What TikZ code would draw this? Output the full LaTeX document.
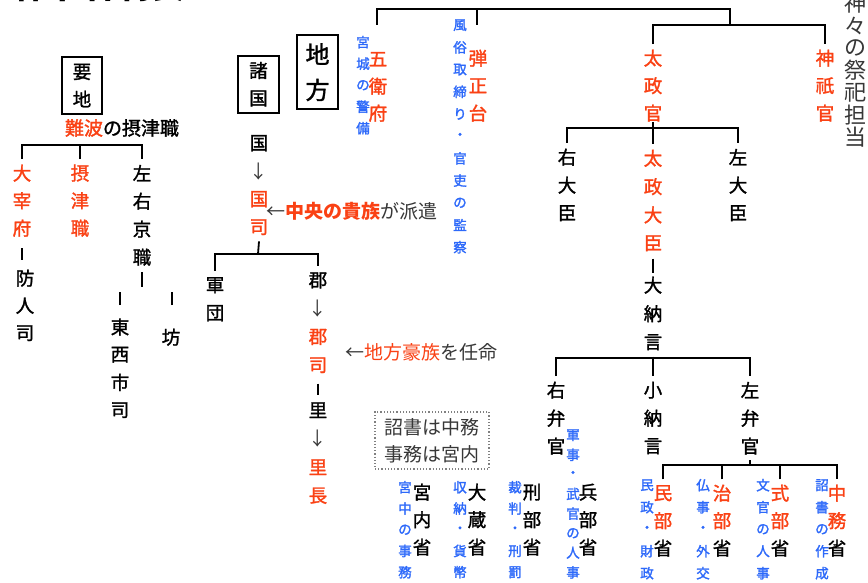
\documentclass[tikz,border=0pt]{standalone}
\usepackage{fontspec}
\setmainfont{Noto Sans CJK JP}
\newfontfamily\jpm[FakeBold=1.5]{Noto Sans CJK JP}
\newfontfamily\jpb[FakeBold=1.8]{Noto Sans CJK JP}
\newfontfamily\jpl{Noto Sans CJK JP}
\usetikzlibrary{calc}
\definecolor{rd}{RGB}{250,65,20}
\definecolor{bl}{RGB}{45,105,250}
\definecolor{gy}{RGB}{55,55,55}
\makeatletter
\newcommand\vstk[2]{\vbox{\offinterlineskip\@tfor\vch:=#2\do{\hbox to 1.1em{\hss\vbox to #1{\vss\hbox{\vch}\vss}\hss}}}}
\makeatother
\tikzset{
  ln/.style={line width=1.8pt, black},
  barln/.style={line width=2.6pt, black},
  stk/.style={inner sep=0pt, anchor=north},
  mf/.style={font=\fontsize{18.5}{18.5}\jpm, text=black},
  rf/.style={font=\fontsize{18.5}{18.5}\jpm, text=rd},
  bf/.style={font=\fontsize{13.5}{13.5}\jpb, text=bl},
  hf/.style={font=\fontsize{19}{19}\jpl, text=gy, inner sep=0pt, anchor=west},
  boxn/.style={draw, line width=1.4pt, inner sep=0pt, text=black},
}
\begin{document}
\begin{tikzpicture}[x=1pt,y=-1pt]
\useasboundingbox (0,0) rectangle (868,583);
\fill[white] (0,0) rectangle (868,583);
\begin{scope}
\clip (0,0) rectangle (868,583);
\node[font=\fontsize{34}{34}\bfseries, anchor=base, inner sep=0pt] (title) at (100,-1) {律令官制表};
\node[stk, font=\fontsize{22}{22}\jpl, text=gy] (kami) at (855,-8) {\vstk{22.3pt}{神々の祭祀担当}};
\end{scope}

% ---------- top tree ----------
\node[stk, rf] (gofu) at (378,45.5) {\vstk{27pt}{五衛府}};
\node[stk, bf] (kyujo) at (363,31.25) {\vstk{21.5pt}{宮城の警備}};
\node[stk, rf] (danjo) at (478,44.25) {\vstk{27.5pt}{弾正台}};
\node[stk, bf] (fuzoku) at (460,13.9) {\vstk{22.2pt}{風俗取締り・官吏の監察}};
\node[stk, rf] (taiseikan) at (653,44.25) {\vstk{27.5pt}{太政官}};
\node[stk, rf] (jingi) at (825,44.25) {\vstk{27.5pt}{神祇官}};

\coordinate (t1) at (377,9);
\coordinate (t2) at (730,9);
\coordinate (t3) at (477,9);
\coordinate (d1) at (377,25);
\coordinate (d2) at (477,25);
\coordinate (d3) at (730,25);
\draw[ln] (d1) -- (t1) -- (t2) -- (d3);
\draw[ln] (t3) -- (d2);
\draw[ln] (taiseikan.north) -- (taiseikan.north |- d3) -- (jingi.north |- d3) -- (jingi.north);

% ---------- daijin tier ----------
\node[stk, mf] (udaijin) at (567,143) {\vstk{28pt}{右大臣}};
\node[stk, rf] (daijo) at (653,144) {\vstk{28.3pt}{太政大臣}};
\node[stk, mf] (sadaijin) at (738,143) {\vstk{28pt}{左大臣}};
\coordinate (bus2) at (653,128);
\draw[ln] (udaijin.north) -- (udaijin.north |- bus2) -- (sadaijin.north |- bus2) -- (sadaijin.north);
\draw[ln, shorten <=-5pt] (taiseikan.south) -- (daijo.north);

\node[stk, mf] (dainagon) at (653,270.75) {\vstk{28.5pt}{大納言}};
\draw[barln, shorten <=1pt, shorten >=-2pt] (daijo.south) -- (dainagon.north);

% ---------- benkan tier ----------
\node[stk, mf] (ubenkan) at (556,376) {\vstk{28pt}{右弁官}};
\node[stk, mf] (shonagon) at (653,376) {\vstk{28pt}{小納言}};
\node[stk, mf] (sabenkan) at (750,376) {\vstk{28pt}{左弁官}};
\coordinate (bus3) at (653,358);
\draw[ln] (ubenkan.north) -- (ubenkan.north |- bus3) -- (sabenkan.north |- bus3) -- (sabenkan.north);
\draw[ln] (dainagon.south) -- (shonagon.north);

% ---------- ministries (left) ----------
\node[stk, mf] (kunai) at (422,478.25) {\vstk{27.5pt}{宮内省}};
\node[stk, mf] (okura) at (477,478.25) {\vstk{27.5pt}{大蔵省}};
\node[stk, mf] (gyobu) at (532,478.25) {\vstk{27.5pt}{刑部省}};
\node[stk, mf] (hyobu) at (588,478.25) {\vstk{27.5pt}{兵部省}};
\node[stk, bf] (kyuchu) at (405,476.4) {\vstk{21.25pt}{宮中の事務}};
\node[stk, bf] (shuno) at (460,476.4) {\vstk{21.25pt}{収納・貨幣}};
\node[stk, bf] (saiban) at (515,476.4) {\vstk{21.25pt}{裁判・刑罰}};
\node[stk, bf] (gunji) at (573,425.2) {\vstk{19.6pt}{軍事・武官の人事}};

\node[draw=gray, dotted, line width=1.2pt, minimum width=114pt, minimum height=57pt, inner sep=0pt,
      font=\fontsize{19}{27}\jpl, text=gy, align=center] (note) at (432,440.5) {詔書は中務\\事務は宮内};

% ---------- ministries (right) ----------
\node[stk, rf] (minbu) at (663,479.25) {\vstk{27.5pt}{民部{\color{black}省}}};
\node[stk, rf] (jibu) at (722,479.25) {\vstk{27.5pt}{治部{\color{black}省}}};
\node[stk, rf] (shikibu) at (780,479.25) {\vstk{27.5pt}{式部{\color{black}省}}};
\node[stk, rf] (nakatsu) at (837,479.25) {\vstk{27.5pt}{中務{\color{black}省}}};
\node[stk, bf] (minsei) at (647,474) {\vstk{22pt}{民政・財政}};
\node[stk, bf] (bukkyo) at (703,474) {\vstk{22pt}{仏事・外交}};
\node[stk, bf] (bunkan) at (763,474) {\vstk{22pt}{文官の人事}};
\node[stk, bf] (shosho) at (822,474) {\vstk{22pt}{詔書の作成}};
\coordinate (bus4) at (750,465);
\draw[ln] (minbu.north) -- (minbu.north |- bus4) -- (nakatsu.north |- bus4) -- (nakatsu.north);
\draw[ln] (jibu.north) -- (jibu.north |- bus4);
\draw[ln] (shikibu.north) -- (shikibu.north |- bus4);
\draw[ln] (sabenkan.south) -- (bus4);

% ---------- provinces ----------
\node[boxn, minimum width=41pt, minimum height=74pt, font=\fontsize{24}{24}\jpm] (chiho) at (317.5,72) {\vstk{36pt}{地方}};
\node[boxn, minimum width=41pt, minimum height=57pt, font=\fontsize{18.5}{18.5}\jpm] (shokoku) at (258.5,84.5) {\vstk{28pt}{諸国}};
\node[stk, mf] (kuni) at (259,129) {\vstk{28pt}{国{\color{gy}\jpl ↓}{\color{rd}国}{\color{rd}司}}};
\node[hf] (haken) at (266,211) {←{\color{rd}\bfseries 中央の貴族}が派遣};

\node[stk, mf] (gundan) at (215,271) {\vstk{28pt}{軍団}};
\node[stk, mf] (gun) at (318,266) {\vstk{28.3pt}{郡{\color{gy}\jpl ↓}{\color{rd}郡}{\color{rd}司}}};
\node[stk, mf] (sato) at (318,395.75) {\vstk{28.5pt}{里{\color{gy}\jpl ↓}{\color{rd}里}{\color{rd}長}}};
\node[hf] (nin) at (345,352) {←{\color{rd}地方豪族}を任命};
\coordinate (bus5) at (258,254);
\draw[ln] (gundan.north) -- (gundan.north |- bus5) -- (gun.north |- bus5) -- (gun.north);
\draw[ln] (kuni.south) -- (bus5);
\draw[barln, shorten <=4pt, shorten >=1pt] (gun.south) -- (sato.north);

% ---------- important places ----------
\node[boxn, minimum width=40pt, minimum height=57pt, font=\fontsize{18.5}{18.5}\jpm] (yochi) at (82,85.5) {\vstk{27pt}{要地}};
\node[font=\fontsize{19}{19}\jpm, inner sep=0pt] (naniwa) at (122,128) {{\color{rd}難波}の摂津職};
\node[stk, rf] (dazaifu) at (22,159.25) {\vstk{27.5pt}{大宰府}};
\node[stk, rf] (settsu) at (80,159.25) {\vstk{27.5pt}{摂津職}};
\node[stk, mf] (kyoshiki) at (142,159) {\vstk{28pt}{左右京職}};
\coordinate (bus6) at (80,145);
\draw[ln] (dazaifu.north) -- (dazaifu.north |- bus6) -- (kyoshiki.north |- bus6) -- (kyoshiki.north);
\draw[ln] (settsu.north) -- (bus6);

\node[stk, mf] (sakimori) at (25,264.25) {\vstk{27.5pt}{防人司}};
\draw[barln, shorten <=6pt, shorten >=4pt] (dazaifu.south) -- (dazaifu.south |- sakimori.north);
\node[stk, mf] (toza) at (120,313) {\vstk{27.7pt}{東西市司}};
\node[stk, mf] (bo) at (171,323) {\vstk{28pt}{坊}};
\draw[barln] ([yshift=-1pt]kyoshiki.south) -- ++(0,15);
\draw[barln] ([yshift=8pt]toza.north) -- ++(0,-13);
\draw[barln] ([xshift=1pt,yshift=18pt]bo.north) -- ++(0,-13);
\end{tikzpicture}
\end{document}
